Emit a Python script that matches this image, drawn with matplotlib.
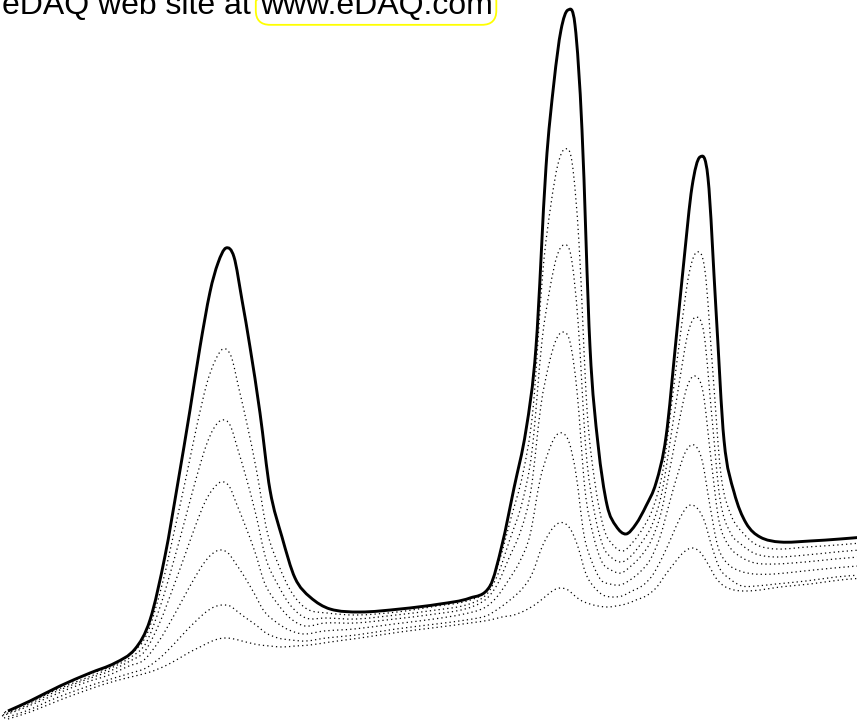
import numpy as np
import matplotlib
matplotlib.use("Agg")
import matplotlib.pyplot as plt
from matplotlib.path import Path
from matplotlib.patches import PathPatch

# retention time (arbitrary units, one unit per screen column)
time = [8, 30, 60, 90, 115, 135, 150, 165, 178, 190,
        200, 210, 218, 226, 234, 242, 250, 260, 270, 282,
        295, 310, 330, 360, 400, 440, 470, 490, 502, 514,
        526, 536, 546, 554, 561, 568, 575, 582, 590, 598,
        607, 616, 626, 636, 646, 656, 666, 676, 684, 692,
        700, 708, 716, 724, 734, 746, 760, 780, 810, 840, 864]

# detector response, largest injection (solid trace)
run_1 = [9, 19, 34, 47, 57, 71, 100, 164, 238, 310,
         373, 428, 457, 472, 463, 420, 373, 307, 230, 183,
         142, 123, 111, 108, 111, 116, 122, 134, 175, 232,
         290, 373, 553, 638, 690, 710, 695, 590, 373, 276,
         215, 194, 186, 196, 214, 237, 283, 380, 460, 533,
         563, 542, 410, 280, 228, 197, 183, 178, 179, 181, 183]

# dilution series (dotted traces)
run_2 = [8, 17, 32, 45, 54, 67, 86, 135, 192, 247,
         295, 337, 359, 371, 364, 331, 296, 247, 189, 154,
         127, 111, 107, 105, 108, 114, 119, 130, 158, 202,
         247, 311, 450, 516, 556, 571, 558, 477, 311, 237,
         191, 175, 169, 178, 192, 212, 250, 327, 390, 446,
         468, 449, 346, 245, 205, 187, 175, 171, 173, 175, 177]
run_3 = [7, 16, 30, 42, 52, 63, 77, 116, 160, 204,
         241, 274, 292, 300, 295, 270, 243, 205, 161, 135,
         114, 102, 102, 101, 105, 110, 115, 125, 146, 181,
         217, 269, 379, 432, 464, 475, 464, 399, 269, 210,
         174, 162, 158, 165, 178, 195, 228, 291, 342, 387,
         403, 386, 302, 221, 188, 175, 166, 163, 165, 168, 170]
run_4 = [5, 14, 28, 40, 49, 59, 69, 98, 132, 165,
         193, 218, 231, 238, 234, 215, 195, 168, 136, 117,
         102, 94, 97, 97, 101, 106, 111, 120, 135, 162,
         190, 230, 315, 356, 380, 388, 378, 329, 230, 186,
         158, 150, 147, 154, 164, 179, 207, 257, 298, 333,
         344, 328, 261, 199, 174, 163, 157, 156, 158, 161, 163]
run_5 = [4, 12, 25, 37, 45, 54, 60, 79, 101, 123,
         141, 157, 166, 170, 167, 156, 144, 127, 109, 98,
         90, 86, 89, 91, 96, 101, 106, 112, 122, 139,
         159, 185, 240, 267, 283, 287, 278, 246, 185, 158,
         140, 136, 135, 140, 148, 160, 183, 219, 247, 269,
         275, 260, 214, 173, 156, 149, 146, 146, 149, 152, 154]
run_6 = [2, 9, 22, 33, 41, 47, 52, 63, 76, 89,
         99, 108, 113, 115, 114, 108, 102, 95, 87, 82,
         80, 79, 82, 85, 91, 96, 100, 104, 111, 120,
         131, 146, 173, 188, 196, 197, 190, 173, 146, 133,
         125, 123, 124, 129, 134, 144, 162, 184, 202, 214,
         213, 200, 173, 151, 141, 134, 134, 136, 139, 143, 145]
run_7 = [1, 8, 20, 31, 39, 44, 48, 54, 61, 68,
         73, 78, 81, 82, 81, 79, 77, 75, 74, 73,
         74, 75, 78, 82, 88, 93, 97, 100, 103, 105,
         110, 116, 124, 130, 132, 130, 124, 119, 116, 114,
         113, 114, 116, 120, 124, 132, 146, 159, 168, 172,
         168, 156, 142, 134, 130, 129, 130, 133, 136, 140, 142]

dotted_runs = [run_2, run_3, run_4, run_5, run_6, run_7]
# peaks of the smaller runs elute slightly earlier
time_shift = [3, 4, 5, 6, 4, 0]


def smooth_path(x, y):
    # cubic Hermite through the points, drawn as bezier segments
    x = np.asarray(x, float)
    y = np.asarray(y, float)
    m = np.empty_like(y)
    m[1:-1] = (y[2:] - y[:-2]) / (x[2:] - x[:-2])
    m[0] = (y[1] - y[0]) / (x[1] - x[0])
    m[-1] = (y[-1] - y[-2]) / (x[-1] - x[-2])
    verts = [(x[0], y[0])]
    codes = [Path.MOVETO]
    for i in range(len(x) - 1):
        h = x[i + 1] - x[i]
        verts += [(x[i] + h / 3, y[i] + m[i] * h / 3),
                  (x[i + 1] - h / 3, y[i + 1] - m[i + 1] * h / 3),
                  (x[i + 1], y[i + 1])]
        codes += [Path.CURVE4] * 3
    return Path(verts, codes)


fig = plt.figure(figsize=(8.57, 7.2), dpi=100)
ax = fig.add_axes([0, 0, 1, 1])
ax.set_xlim(0, 857)
ax.set_ylim(0, 720)
ax.axis("off")

for run, dt in zip(dotted_runs, time_shift):
    t = np.asarray(time, float) - dt
    ax.add_patch(PathPatch(smooth_path(t, run), fill=False, ec="black",
                           lw=0.9, linestyle=(0, (1, 2.5))))
ax.add_patch(PathPatch(smooth_path(time, run_1), fill=False, ec="black",
                       lw=2.1, joinstyle="round"))

# caption, partly cut off by the top edge as in the original
font = dict(family=["Liberation Sans", "DejaVu Sans"], size=23)
t1 = fig.text(2 / 857, 1 - 14 / 720, "eDAQ web site at ", va="baseline",
              ha="left", **font)
fig.canvas.draw()
bb = t1.get_window_extent(fig.canvas.get_renderer())
fig.text(bb.x1 / fig.bbox.width, 1 - 14 / 720, "www.eDAQ.com",
         va="baseline", ha="left", **font,
         bbox=dict(boxstyle="round,pad=0.12,rounding_size=0.45",
                   fc="none", ec="#ffff00", lw=1.3))

fig.savefig("out.png", dpi=100)
